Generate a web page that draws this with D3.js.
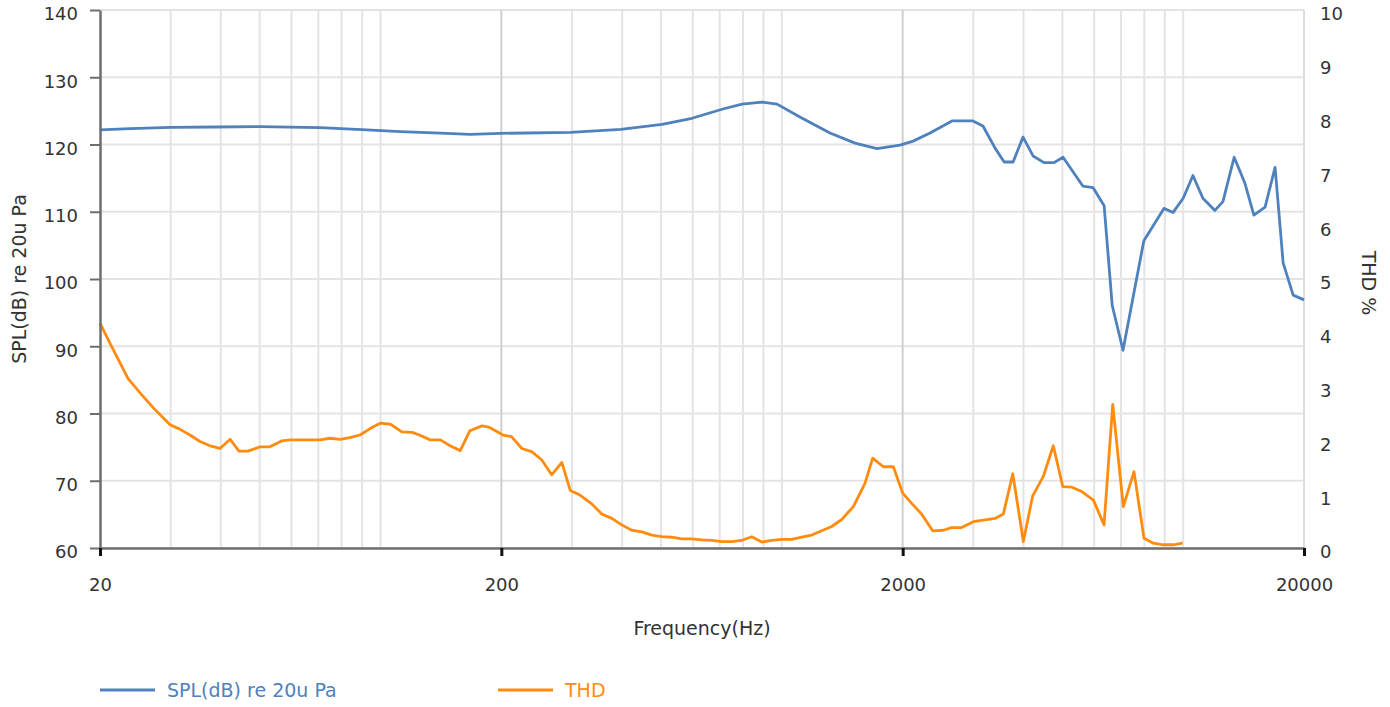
<!DOCTYPE html>
<html>
<head>
<meta charset="utf-8">
<script src="https://cdn.jsdelivr.net/npm/d3@7"></script>
<style>
  body { margin: 0; background: #fff; }
  text { font-family: "DejaVu Sans", Verdana, sans-serif; }
</style>
</head>
<body>
<div id="chart"></div>
<script>
// SPL curve (Hz / dB)
var splFreq = [20, 23.8, 30, 38.7, 50, 70.7, 92.5, 112, 141, 167, 199, 297, 397, 503, 597, 713, 796, 892, 973,
  1109, 1318, 1522, 1726, 1970, 2124, 2340, 2654, 2994, 3170, 3396, 3580, 3768, 3990, 4226, 4500, 4766, 5020,
  5628, 5960, 6354, 6654, 7080, 7980, 8954, 9440, 10000, 10576, 11196, 11996, 12560, 13398, 14258, 15000,
  15996, 16944, 17744, 18794, 20000];
var splValues = [122.16, 122.35, 122.56, 122.6, 122.65, 122.5, 122.16, 121.9, 121.7, 121.5, 121.66, 121.8, 122.26,
  123.0, 123.9, 125.28, 126.0, 126.3, 126.0, 124.1, 121.7, 120.2, 119.4, 119.9, 120.5, 121.7, 123.5, 123.5,
  122.75, 119.5, 117.4, 117.4, 121.1, 118.3, 117.3, 117.3, 118.1, 113.8, 113.6, 110.9, 96.1, 89.4, 105.7,
  110.5, 109.9, 112.0, 115.4, 112.0, 110.2, 111.5, 118.1, 114.2, 109.5, 110.7, 116.6, 102.4, 97.6, 96.9];

// THD curve (Hz / %)
var thdFreq = [20, 21.2, 23.5, 25.2, 27.2, 29.9, 31.6, 33.5, 35.5, 37.6, 39.8, 42.2, 44.4, 46.8, 50.1, 53.0, 56.7,
  59.5, 64.2, 70.7, 74.8, 79.3, 83.9, 88.9, 94.2, 99.8, 106, 113, 120, 125, 133, 141, 149, 158, 167, 179, 187,
  202, 212, 225, 238, 252, 267, 283, 297, 314, 336, 356, 377, 399, 423, 448, 474, 502, 532, 563, 596, 632, 669,
  708, 750, 794, 841, 891, 944, 999, 1058, 1121, 1187, 1257, 1331, 1410, 1507, 1611, 1684, 1790, 1896, 2000,
  2106, 2230, 2376, 2526, 2650, 2806, 3000, 3177, 3398, 3564, 3762, 3997, 4217, 4482, 4746, 5012, 5278, 5590,
  5974, 6350, 6675, 7093, 7541, 7987, 8424, 8920, 9447, 9970];
var thdValues = [4.18, 3.80, 3.15, 2.88, 2.60, 2.29, 2.21, 2.10, 1.98, 1.90, 1.85, 2.02, 1.80, 1.80, 1.88, 1.88,
  1.99, 2.01, 2.01, 2.01, 2.04, 2.02, 2.05, 2.10, 2.22, 2.32, 2.30, 2.16, 2.15, 2.10, 2.01, 2.01, 1.90, 1.81,
  2.18, 2.27, 2.24, 2.10, 2.07, 1.85, 1.79, 1.64, 1.36, 1.59, 1.07, 0.985, 0.82, 0.63, 0.55, 0.43, 0.33, 0.30,
  0.24, 0.21, 0.20, 0.17, 0.17, 0.15, 0.14, 0.12, 0.12, 0.14, 0.21, 0.11, 0.14, 0.16, 0.16, 0.20, 0.24, 0.32,
  0.40, 0.53, 0.77, 1.20, 1.67, 1.51, 1.51, 1.02, 0.83, 0.63, 0.32, 0.33, 0.38, 0.38, 0.49, 0.52, 0.55, 0.63,
  1.38, 0.12, 0.97, 1.33, 1.90, 1.14, 1.13, 1.05, 0.89, 0.43, 2.67, 0.77, 1.42, 0.18, 0.09, 0.06, 0.06, 0.09];

// axis ticks
var xTicks = [20, 200, 2000, 20000];
var splTicks = [60, 70, 80, 90, 100, 110, 120, 130, 140];
var thdTicks = [0, 1, 2, 3, 4, 5, 6, 7, 8, 9, 10];

var svgWidth = 1390;
var svgHeight = 707;
var margin = { top: 10, right: 86, bottom: 159, left: 100 };
var width = svgWidth - margin.left - margin.right;
var height = svgHeight - margin.top - margin.bottom;

var splColor = "#4f81bd";
var thdColor = "#ff8c0f";

var svg = d3.select("#chart").append("svg")
  .attr("width", svgWidth)
  .attr("height", svgHeight);

var chartGroup = svg.append("g")
  .attr("transform", `translate(${margin.left}, ${margin.top})`);

var xScale = d3.scaleLog().domain([20, 20000]).range([0, width]);
var yLeft = d3.scaleLinear().domain([60, 140]).range([height, 0]);
var yRight = d3.scaleLinear().domain([0, 10]).range([height, 0]);

// minor vertical grid (30..100, 300..1000, 3000..10000)
var minorGrid = [];
[20, 200, 2000].forEach(function(dec) {
  for (var m = 1.5; m <= 5; m += 0.5) minorGrid.push(dec * m);
});

chartGroup.append("g").selectAll("line.hgrid")
  .data(splTicks)
  .enter().append("line")
  .attr("x1", 0).attr("x2", width)
  .attr("y1", d => yLeft(d)).attr("y2", d => yLeft(d))
  .attr("stroke", "#e4e4e4").attr("stroke-width", 2);

chartGroup.append("g").selectAll("line.vgrid")
  .data(minorGrid)
  .enter().append("line")
  .attr("x1", d => xScale(d)).attr("x2", d => xScale(d))
  .attr("y1", 0).attr("y2", height)
  .attr("stroke", "#e4e4e4").attr("stroke-width", 2);

chartGroup.append("g").selectAll("line.vmajor")
  .data([200, 2000])
  .enter().append("line")
  .attr("x1", d => xScale(d)).attr("x2", d => xScale(d))
  .attr("y1", 0).attr("y2", height)
  .attr("stroke", "#cfcfcf").attr("stroke-width", 2);

chartGroup.append("line")
  .attr("x1", width).attr("x2", width)
  .attr("y1", 0).attr("y2", height)
  .attr("stroke", "#dedede").attr("stroke-width", 2);

// lines
var splLine = d3.line()
  .x((d, i) => xScale(splFreq[i]))
  .y(d => yLeft(d));

var thdLine = d3.line()
  .x((d, i) => xScale(thdFreq[i]))
  .y(d => yRight(d));

chartGroup.append("path")
  .datum(thdValues)
  .attr("d", thdLine)
  .attr("fill", "none")
  .attr("stroke", thdColor)
  .attr("stroke-width", 2.8)
  .attr("stroke-linejoin", "round");

chartGroup.append("path")
  .datum(splValues)
  .attr("d", splLine)
  .attr("fill", "none")
  .attr("stroke", splColor)
  .attr("stroke-width", 2.8)
  .attr("stroke-linejoin", "round");

// axes
var leftAxis = d3.axisLeft(yLeft).tickValues(splTicks).tickSize(10).tickSizeOuter(0).tickPadding(12);
var bottomAxis = d3.axisBottom(xScale).tickValues(xTicks).tickFormat(d3.format("d"))
  .tickSize(8).tickSizeOuter(0).tickPadding(22);
var rightAxis = d3.axisRight(yRight).tickValues(thdTicks).tickSize(0).tickPadding(16);

var gLeft = chartGroup.append("g").call(leftAxis);
gLeft.select(".domain").attr("stroke", "#6e6e6e").attr("stroke-width", 2.5);
gLeft.selectAll(".tick line").attr("stroke", "#6e6e6e").attr("stroke-width", 2);
gLeft.selectAll(".tick text").attr("dy", "0.55em");

var gBottom = chartGroup.append("g")
  .attr("transform", `translate(0, ${height})`)
  .call(bottomAxis);
gBottom.select(".domain").attr("stroke", "#6e6e6e").attr("stroke-width", 2.5);
gBottom.selectAll(".tick line").attr("stroke", "#111").attr("stroke-width", 3);

var gRight = chartGroup.append("g")
  .attr("transform", `translate(${width}, 0)`)
  .call(rightAxis);
gRight.select(".domain").remove();
gRight.selectAll(".tick text").attr("dy", "0.55em");

[gLeft, gBottom, gRight].forEach(function(g) {
  g.selectAll(".tick text")
    .attr("font-family", "DejaVu Sans, Verdana, sans-serif")
    .attr("font-size", 18)
    .attr("fill", "#333");
});

// titles
svg.append("text")
  .attr("transform", "translate(26, 279) rotate(-90)")
  .attr("text-anchor", "middle")
  .attr("font-size", 19)
  .attr("fill", "#333")
  .text("SPL(dB) re 20u Pa");

svg.append("text")
  .attr("transform", "translate(1362, 283) rotate(90)")
  .attr("text-anchor", "middle")
  .attr("font-size", 19)
  .attr("fill", "#333")
  .text("THD %");

svg.append("text")
  .attr("x", margin.left + width / 2)
  .attr("y", 635)
  .attr("text-anchor", "middle")
  .attr("font-size", 19)
  .attr("fill", "#333")
  .text("Frequency(Hz)");

// legend
var legendItems = [
  { name: "SPL(dB) re 20u Pa", color: splColor, x: 100 },
  { name: "THD", color: thdColor, x: 498 }
];
var legend = svg.append("g").selectAll("g")
  .data(legendItems)
  .enter().append("g")
  .attr("transform", d => `translate(${d.x}, 690)`);
legend.append("line")
  .attr("x1", 0).attr("x2", 55)
  .attr("y1", 0).attr("y2", 0)
  .attr("stroke", d => d.color)
  .attr("stroke-width", 3);
legend.append("text")
  .attr("x", 67)
  .attr("y", 7)
  .attr("font-size", 19)
  .attr("fill", d => d.color)
  .text(d => d.name);
</script>
</body>
</html>
